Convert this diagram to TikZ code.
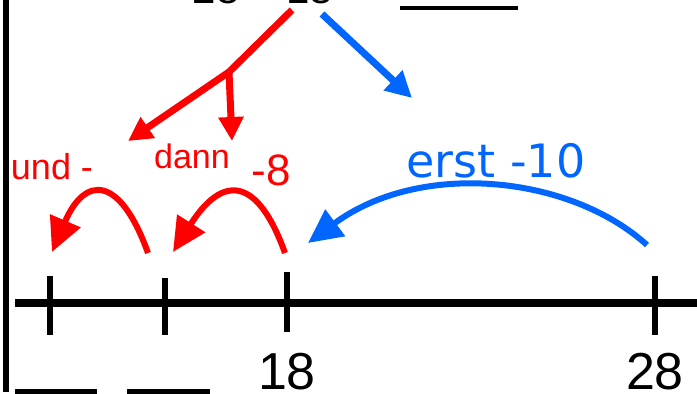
\documentclass[tikz,border=0pt]{standalone}
\usepackage{fontspec}
\setmainfont{Liberation Sans}
\newfontfamily\ersthand{DejaVu Sans}
\usetikzlibrary{arrows.meta}
\definecolor{skyblue}{RGB}{0,102,255}

\begin{document}
\begin{tikzpicture}[
			x=1pt, y=-1pt,
			axis/.style={line width=8pt},
			tickmark/.style={line width=6pt},
			blank/.style={line width=5pt},
			num/.style={inner sep=0pt, anchor=base, font=\fontsize{52}{52}\selectfont},
			redlbl/.style={inner sep=0pt, anchor=base, text=red},
			redarr/.style={-{Triangle[length=24pt, width=24pt]}, line width=7pt, red},
			bluearr/.style={-{Triangle[length=26pt, width=26pt]}, line width=7pt, skyblue},
			hop/.style={-{Triangle[length=34pt, width=32pt]}, line width=6pt}
			]
			\useasboundingbox (0,0) rectangle (697,394);
			\clip (0,0) rectangle (697,394);
			% task at the top
			\node[num, font=\fontsize{42}{42}\selectfont] (task) at (263,3) {28 – 18};
			\draw[blank, line width=4pt] (400,8) -- (518,8);
			\draw[line width=6pt] (6,0) -- (6,392);
			% splitting arrows
			\coordinate (from) at (292,10);
			\coordinate (split) at (229,72);
			\coordinate (ten) at (322,14);
			\coordinate (tenend) at (412,98);
			\coordinate (left) at (128,141);
			\coordinate (down) at (232,141);
			\draw[red, line width=7pt] (from) -- (split);
			\draw[redarr] (split) -- (left);
			\draw[redarr] (split) -- (down);
			\draw[bluearr] (ten) -- (tenend);
			% number line
			\draw[axis] (15,303) -- (697,303);
			\coordinate (t1) at (50,303);
			\coordinate (t2) at (165,303);
			\coordinate (t3) at (287,303);
			\coordinate (t4) at (655,303);
			\draw[tickmark] (50,276) -- (50,335);
			\draw[tickmark] (165,278) -- (165,335);
			\draw[tickmark] (287,272) -- (287,332);
			\draw[tickmark] (655,276) -- (655,335);
			\node[num] (n18) at (t3 |- 0,389) {18};
			\node[num] (n28) at (t4 |- 0,389) {28};
			\draw[blank] (15,391) -- (97,391);
			\draw[blank] (127,391) -- (210,391);
			% jumps
			\coordinate (s28) at (647,245);
			\coordinate (e18) at (308,243);
			\coordinate (s18) at (285,253);
			\coordinate (e10) at (173,252);
			\coordinate (s10) at (148,253);
			\coordinate (e0) at (52,252);
			\draw[hop, skyblue] (s28) .. controls (570,175) and (420,160) .. (e18);
			\draw[hop, red] (s18) .. controls (257,175) and (222,175) .. (e10);
			\draw[hop, red] (s10) .. controls (120,175) and (85,175) .. (e0);
			\node[inner sep=0pt, anchor=base, text=skyblue, font=\ersthand\fontsize{46}{46}\selectfont] (erst) at (496,177) {erst -10};
			\node[redlbl, font=\fontsize{34}{34}\selectfont] (dann) at (192,168) {dann};
			\node[redlbl, font=\fontsize{44}{44}\selectfont] (minus8) at (271,185) {-8};
			\node[redlbl, font=\fontsize{36}{36}\selectfont] (und) at (52,179) {und -};
		\end{tikzpicture}
\end{document}
